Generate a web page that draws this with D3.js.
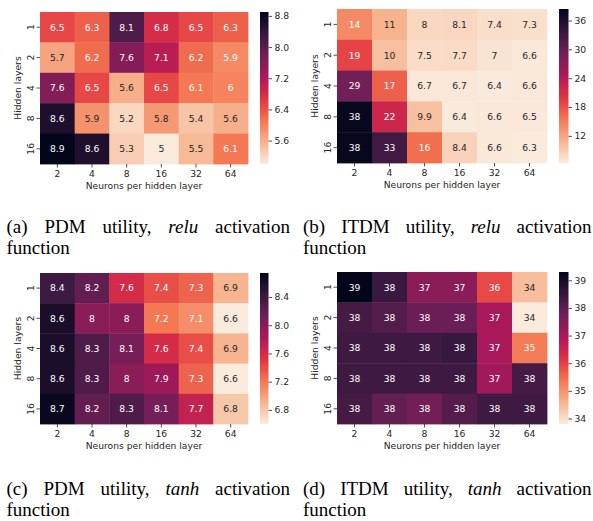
<!DOCTYPE html>
<html>
<head>
<meta charset="utf-8">
<script src="https://cdn.jsdelivr.net/npm/d3@7"></script>
<style>
  html, body { margin: 0; padding: 0; background: #ffffff; }
  svg { display: block; }
</style>
</head>
<body>
<svg id="chart" width="593" height="521"></svg>
<script>
// ---------------- DATA ----------------
const neurons = ["2", "4", "8", "16", "32", "64"];
const hiddenLayers = ["1", "2", "4", "8", "16"];

const pdmRelu = [
  [6.5, 6.3, 8.1, 6.8, 6.5, 6.3],
  [5.7, 6.2, 7.6, 7.1, 6.2, 5.94],
  [7.6, 6.5, 5.6, 6.5, 6.1, 6.0],
  [8.6, 5.86, 5.2, 5.8, 5.4, 5.6],
  [8.9, 8.6, 5.3, 5.0, 5.5, 6.1]
];
const itdmRelu = [
  [14, 11, 8.0, 8.1, 7.4, 7.3],
  [19, 10, 7.5, 7.7, 7.0, 6.6],
  [29, 17, 6.7, 6.7, 6.4, 6.6],
  [38, 22, 9.9, 6.4, 6.6, 6.5],
  [38, 33, 16, 8.4, 6.6, 6.3]
];
const pdmTanh = [
  [8.4, 8.2, 7.6, 7.4, 7.3, 6.9],
  [8.6, 8.0, 8.0, 7.2, 7.1, 6.6],
  [8.6, 8.3, 8.1, 7.6, 7.4, 6.9],
  [8.6, 8.3, 8.0, 7.9, 7.3, 6.6],
  [8.7, 8.2, 8.3, 8.1, 7.7, 6.8]
];
const itdmTanh = [
  [39.3, 38.45, 37.4, 37.4, 35.9, 34.45],
  [38.3, 38.1, 37.8, 37.8, 37.0, 33.8],
  [38.4, 38.4, 38.4, 38.49, 37.0, 35.3],
  [38.4, 38.4, 38.4, 38.4, 37.1, 38.3],
  [38.3, 37.9, 37.7, 38.1, 38.4, 38.4]
];

// colour-bar ranges and ticks
const pdmReluRange = [5.0, 8.9];
const itdmReluRange = [6.35, 38.4];
const pdmTanhRange = [6.6, 8.74];
const itdmTanhRange = [33.8, 39.3];
const pdmReluTicks = [5.6, 6.4, 7.2, 8.0, 8.8];
const itdmReluTicks = [12, 18, 24, 30, 36];
const pdmTanhTicks = [6.8, 7.2, 7.6, 8.0, 8.4];
const itdmTanhTicks = [34, 35, 36, 37, 38, 39];

// captions
const captionLetters = ["(a)", "(b)", "(c)", "(d)"];
const utilities = ["PDM", "ITDM", "PDM", "ITDM"];
const activations = ["relu", "relu", "tanh", "tanh"];
const xTitle = "Neurons per hidden layer";
const yTitle = "Hidden layers";

// ---------------- COLOUR MAP (seaborn rocket, reversed) ----------------
const rocketStops = ["#03051a", "#35193e", "#701f57", "#ad1759", "#e13342", "#f37651", "#f6b48f", "#faebdd"];
const rocket = d3.piecewise(d3.interpolateRgb, rocketStops);
const rocketR = t => rocket(1 - Math.max(0, Math.min(1, t)));

function relLum(c) {
  const rgb = d3.rgb(c);
  const lin = v => { v /= 255; return v <= 0.03928 ? v / 12.92 : Math.pow((v + 0.055) / 1.055, 2.4); };
  return 0.2126 * lin(rgb.r) + 0.7152 * lin(rgb.g) + 0.0722 * lin(rgb.b);
}

// ---------------- LAYOUT ----------------
const FONT = "'DejaVu Sans', sans-serif";
const FS = 9.2;
const TXT = "#262626";

const panels = [
  { data: pdmRelu, range: pdmReluRange, ticks: pdmReluTicks, tf: ".1f",
    x0: 40, x1: 248, y0: 12, y1: 164, cbx: 260, cbw: 8.5,
    capX0: 6.5, capX1: 290, capY: 233 },
  { data: itdmRelu, range: itdmReluRange, ticks: itdmReluTicks, tf: "d",
    x0: 337, x1: 547, y0: 9, y1: 163, cbx: 559, cbw: 9.5,
    capX0: 303, capX1: 591.5, capY: 233 },
  { data: pdmTanh, range: pdmTanhRange, ticks: pdmTanhTicks, tf: ".1f",
    x0: 40, x1: 248, y0: 273, y1: 424, cbx: 260, cbw: 8.5,
    capX0: 6.5, capX1: 290, capY: 495 },
  { data: itdmTanh, range: itdmTanhRange, ticks: itdmTanhTicks, tf: "d",
    x0: 337, x1: 547, y0: 272, y1: 424, cbx: 559, cbw: 9.5,
    capX0: 303, capX1: 591.5, capY: 495 }
];

const svg = d3.select("#chart");
svg.append("rect").attr("width", 593).attr("height", 521).attr("fill", "#fff");
const defs = svg.append("defs");
const annotFmt = d3.format(".2~g");

panels.forEach((p, pi) => {
  const g = svg.append("g");
  const x = d3.scaleBand().domain(neurons).range([p.x0, p.x1]);
  const y = d3.scaleBand().domain(hiddenLayers).range([p.y0, p.y1]);
  const color = d3.scaleSequential(rocketR).domain(p.range);

  const cells = [];
  p.data.forEach((row, ri) => row.forEach((v, ci) => cells.push({ r: hiddenLayers[ri], c: neurons[ci], v })));

  g.selectAll("rect.cell").data(cells).join("rect")
    .attr("class", "cell")
    .attr("x", d => x(d.c)).attr("y", d => y(d.r))
    .attr("width", x.bandwidth() + 0.4).attr("height", y.bandwidth() + 0.4)
    .attr("fill", d => color(d.v));

  g.selectAll("text.annot").data(cells).join("text")
    .attr("class", "annot")
    .attr("x", d => x(d.c) + x.bandwidth() / 2)
    .attr("y", d => y(d.r) + y.bandwidth() / 2)
    .attr("dy", "0.36em")
    .attr("text-anchor", "middle")
    .attr("font-family", FONT).attr("font-size", FS)
    .attr("fill", d => relLum(color(d.v)) > 0.408 ? TXT : "#ffffff")
    .text(d => annotFmt(d.v));

  // x axis
  const xAxis = g.append("g").attr("transform", `translate(0,${p.y1})`)
    .call(d3.axisBottom(x).tickSize(3.5).tickPadding(2.5));
  // y axis
  const yAxis = g.append("g").attr("transform", `translate(${p.x0},0)`)
    .call(d3.axisLeft(y).tickSize(3.5).tickPadding(2.5));
  [xAxis, yAxis].forEach(a => {
    a.select(".domain").remove();
    a.selectAll(".tick line").attr("stroke", TXT).attr("stroke-width", 0.8);
    a.selectAll(".tick text").attr("font-family", FONT).attr("font-size", FS).attr("fill", TXT);
  });
  yAxis.selectAll(".tick text")
    .attr("transform", "rotate(-90)")
    .attr("x", 0).attr("y", -6.5)
    .attr("dy", "0")
    .attr("text-anchor", "middle");

  g.append("text")
    .attr("x", (p.x0 + p.x1) / 2).attr("y", p.y1 + 25)
    .attr("text-anchor", "middle")
    .attr("font-family", FONT).attr("font-size", FS).attr("fill", TXT)
    .text(xTitle);
  g.append("text")
    .attr("transform", `translate(${p.x0 - 19.5},${(p.y0 + p.y1) / 2}) rotate(-90)`)
    .attr("text-anchor", "middle")
    .attr("font-family", FONT).attr("font-size", FS).attr("fill", TXT)
    .text(yTitle);

  // colour bar
  const gid = "cbgrad" + pi;
  const grad = defs.append("linearGradient").attr("id", gid)
    .attr("x1", 0).attr("y1", 1).attr("x2", 0).attr("y2", 0);
  d3.range(0, 1.0001, 0.025).forEach(t => {
    grad.append("stop").attr("offset", t).attr("stop-color", rocketR(t));
  });
  g.append("rect")
    .attr("x", p.cbx).attr("y", p.y0)
    .attr("width", p.cbw).attr("height", p.y1 - p.y0)
    .attr("fill", `url(#${gid})`);
  const cy = d3.scaleLinear().domain(p.range).range([p.y1, p.y0]);
  const cAxis = g.append("g").attr("transform", `translate(${p.cbx + p.cbw},0)`)
    .call(d3.axisRight(cy).tickValues(p.ticks).tickFormat(d3.format(p.tf)).tickSize(3.5).tickPadding(2.5));
  cAxis.select(".domain").remove();
  cAxis.selectAll(".tick line").attr("stroke", TXT).attr("stroke-width", 0.8);
  cAxis.selectAll(".tick text").attr("font-family", FONT).attr("font-size", FS).attr("fill", TXT);

  // caption (justified first line)
  const words = [
    { t: captionLetters[pi], it: false },
    { t: utilities[pi], it: false },
    { t: "utility,", it: false },
    { t: activations[pi], it: true },
    { t: "activation", it: false }
  ];
  const cap = g.append("g");
  const nodes = words.map(w => cap.append("text")
    .attr("y", p.capY)
    .attr("font-family", "'Liberation Serif', 'Times New Roman', serif")
    .attr("font-size", 19)
    .attr("font-style", w.it ? "italic" : "normal")
    .attr("fill", "#000")
    .text(w.t));
  const widths = nodes.map(n => n.node().getComputedTextLength());
  const total = d3.sum(widths);
  const gap = (p.capX1 - p.capX0 - total) / (words.length - 1);
  let cx = p.capX0;
  nodes.forEach((n, i) => { n.attr("x", cx); cx += widths[i] + gap; });
  cap.append("text")
    .attr("x", p.capX0).attr("y", p.capY + 21)
    .attr("font-family", "'Liberation Serif', 'Times New Roman', serif")
    .attr("font-size", 19).attr("fill", "#000")
    .text("function");
});
</script>
</body>
</html>
